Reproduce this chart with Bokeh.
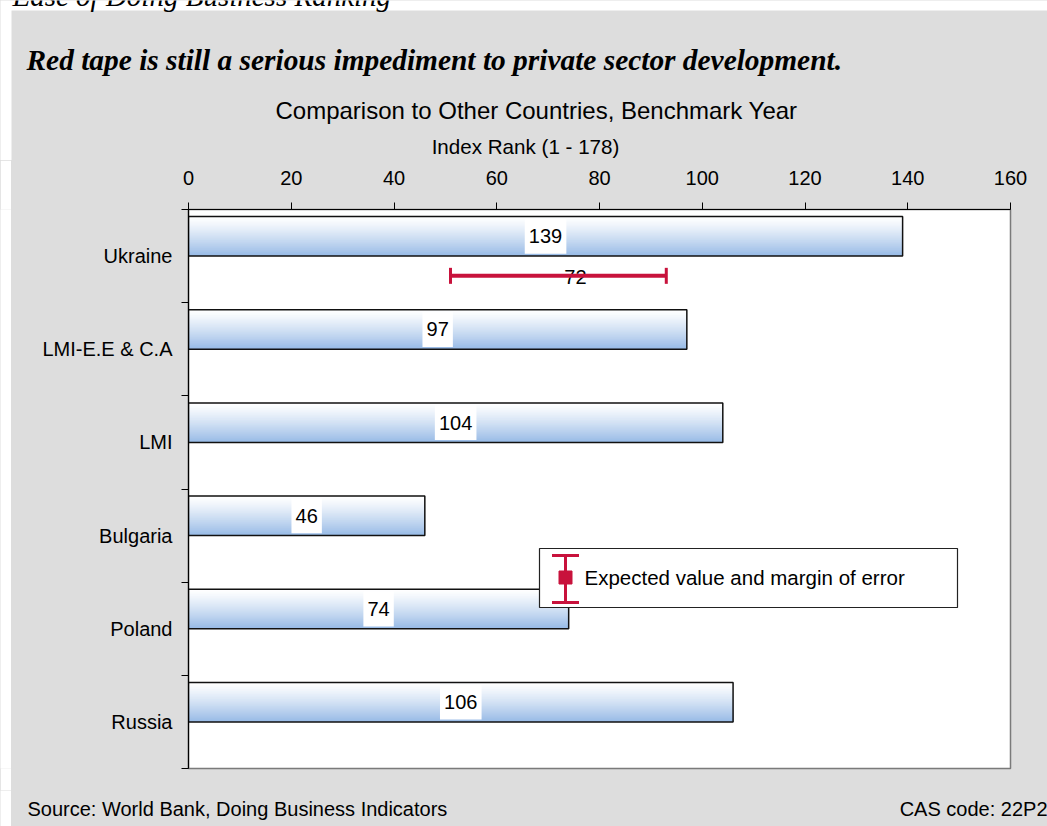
import numpy as np
from bokeh.plotting import figure
from bokeh.layouts import column, row
from bokeh.models import (Range1d, FixedTicker, ColumnDataSource, Whisker, TeeHead,
                          Label, BoxAnnotation)
from bokeh.core.properties import value
from bokeh.embed import file_html
from bokeh.resources import INLINE

# ---------------- data ----------------
categories = ["Ukraine", "LMI-E.E & C.A", "LMI", "Bulgaria", "Poland", "Russia"]
ranks = [139, 97, 104, 46, 74, 106]
expected_category = ["Ukraine"]
expected_value = [72]
expected_low = [51]
expected_high = [93]
x_ticks = [0, 20, 40, 60, 80, 100, 120, 140, 160]

# ---------------- style / layout ----------------
GRAY = "#dddddd"
SANS = "Liberation Sans"
SERIF = "Liberation Serif"
RED = "#c8123c"
BAR_TOP = np.array([255, 255, 255])
BAR_BOTTOM = np.array([152, 187, 230])
BAR_H = 0.424          # bar thickness as fraction of a category band
BAR_POS = 0.288        # first series centre within band (from top)
ERR_POS = 0.712        # second series centre within band
N_STRIPS = 40
W, H = 1047, 826
LEFT_WHITE = 11        # white page margin left of the grey panel
TOP_WHITE = 10         # white page margin above the grey panel
HEAD_H = 160           # header strip height (titles)
FOOT_H = 36            # footer strip height (source line)
FX0, FX1, FY0, FY1 = 188, 1010, 209, 768   # plot frame in page pixels
XMAX = 160
NCAT = len(categories)
MAIN_H = H - HEAD_H - FOOT_H
MAIN_W = W - LEFT_WHITE


def dx(px):   # page pixel -> data x inside the main frame
    return (px - FX0) / (FX1 - FX0) * XMAX


def dy(py):   # page pixel -> data y inside the main frame (axis runs downward)
    return (py - FY0) / (FY1 - FY0) * NCAT


def text_fig(width, height, x0, y0, bg):
    f = figure(width=width, height=height, x_range=Range1d(x0, x0 + width),
               y_range=Range1d(y0 + height, y0), x_axis_location=None, y_axis_location=None,
               toolbar_location=None, output_backend="svg", min_border=0,
               outline_line_color=None, background_fill_color=bg, border_fill_color=bg, title=None)
    f.grid.visible = False
    return f


def ftext(f, text, px, py, size, font=SANS, style="normal", align="left"):
    f.text(x=[px], y=[py], text=[text], text_font=value(font), text_font_size=size,
           text_font_style=style, text_align=align, text_baseline="middle", text_color="black")


# ---------------- header ----------------
head = text_fig(W, HEAD_H, 0, 0, "white")
head.add_layout(BoxAnnotation(left=LEFT_WHITE, right=W + 10, top=TOP_WHITE, bottom=HEAD_H + 10,
                              fill_color=GRAY, fill_alpha=1, line_color=None, level="underlay"))
ftext(head, "Ease of Doing Business Ranking", 12, -5, "29px", SERIF, "italic")
ftext(head, "Red tape is still a serious impediment to private sector development.", 26, 59,
      "29.4px", SERIF, "bold italic")
ftext(head, "Comparison to Other Countries, Benchmark Year", 536, 110, "24px", align="center")
ftext(head, "Index Rank (1 - 178)", 525, 146, "20.6px", align="center")

# ---------------- main chart ----------------
idx = {c: i for i, c in enumerate(categories)}
bar_y = [idx[c] + BAR_POS for c in categories]

p = figure(width=MAIN_W, height=MAIN_H, x_range=Range1d(0, XMAX), y_range=Range1d(NCAT, 0),
           x_axis_location="above", toolbar_location=None, output_backend="svg",
           min_border_left=FX0 - LEFT_WHITE, min_border_right=W - FX1,
           min_border_top=FY0 - HEAD_H, min_border_bottom=H - FOOT_H - FY1,
           border_fill_color=GRAY, background_fill_color="white",
           outline_line_color="#7a7a7a", outline_line_width=1.5, title=None)
p.grid.visible = False

lbls = [str(r) for r in ranks]
src = ColumnDataSource(dict(cat=categories, rank=ranks, y=bar_y,
                            half=[r / 2 for r in ranks], lbl=lbls,
                            boxw=[len(s) * 11.2 + 8 for s in lbls]))
for k in range(N_STRIPS):
    t = k / (N_STRIPS - 1)
    col = BAR_TOP + (BAR_BOTTOM - BAR_TOP) * (t ** 1.2)
    hexcol = "#%02x%02x%02x" % tuple(int(round(v)) for v in col)
    top_off = -BAR_H / 2 + k * BAR_H / N_STRIPS      # strip runs from here to bar bottom
    hh = BAR_H / 2 - top_off
    ys = [y + top_off + hh / 2 for y in bar_y]
    p.hbar(y=ys, right=ranks, left=0, height=hh, fill_color=hexcol, line_color=None)
p.hbar(y="y", right="rank", left=0, height=BAR_H, source=src,
       fill_color=None, line_color="#111111", line_width=1.5)

# white label boxes + value labels
p.rect(x="half", y="y", width="boxw", width_units="screen", height=BAR_H * 0.88,
       source=src, fill_color="white", line_color=None)
p.text(x="half", y="y", text="lbl", source=src, text_align="center", text_baseline="middle",
       text_font=value(SANS), text_font_size="20px", text_color="black")

# expected value + margin of error
esrc = ColumnDataSource(dict(y=[idx[c] + ERR_POS for c in expected_category],
                             v=expected_value, lo=expected_low, hi=expected_high,
                             lbl=[str(v) for v in expected_value]))
p.add_layout(Whisker(source=esrc, base="y", lower="lo", upper="hi", dimension="width",
                     line_color=RED, line_width=4, level="annotation",
                     lower_head=TeeHead(size=16, line_color=RED, line_width=3),
                     upper_head=TeeHead(size=16, line_color=RED, line_width=3)))
p.text(x="v", y="y", text="lbl", source=esrc, text_align="center", text_baseline="middle",
       x_offset=17, y_offset=1, text_font=value(SANS), text_font_size="20px", text_color="black")

# legend (key box)
LX0, LX1, LY0, LY1 = dx(539), dx(957), dy(548), dy(607)
p.quad(left=[LX0], right=[LX1], top=[LY0], bottom=[LY1], fill_color="white",
       line_color="#222222", line_width=1.2)
icon_x = dx(565)
icon = ColumnDataSource(dict(x=[icon_x], lo=[dy(555)], hi=[dy(602)]))
p.add_layout(Whisker(source=icon, base="x", lower="lo", upper="hi", dimension="height",
                     line_color=RED, line_width=3, level="annotation",
                     lower_head=TeeHead(size=27, line_color=RED, line_width=3),
                     upper_head=TeeHead(size=27, line_color=RED, line_width=3)))
p.scatter(x=[icon_x], y=[dy(577)], marker="square", size=13, fill_color=RED, line_color=RED)
p.add_layout(Label(x=dx(584), y=dy(577), text="Expected value and margin of error",
                   text_baseline="middle", text_align="left", text_font=SANS,
                   text_font_size="20.5px", text_color="black"))

# axes
xa = p.xaxis[0]
xa.ticker = FixedTicker(ticks=x_ticks)
xa.major_label_text_font = SANS
xa.major_label_text_font_size = "20px"
xa.major_label_text_color = "black"
xa.axis_line_color = "black"
xa.axis_line_width = 1.2
xa.major_tick_out = 7
xa.major_tick_in = 0
xa.minor_tick_out = 0
xa.minor_tick_in = 0
xa.major_tick_line_color = "black"
xa.major_label_standoff = 18

ya = p.yaxis[0]
ya.ticker = FixedTicker(ticks=[i + 0.5 for i in range(NCAT)],
                        minor_ticks=list(range(NCAT + 1)))
ya.major_label_overrides = {i + 0.5: c for i, c in enumerate(categories)}
ya.major_label_text_font = SANS
ya.major_label_text_font_size = "20px"
ya.major_label_text_color = "black"
ya.axis_line_color = "black"
ya.axis_line_width = 1.2
ya.major_tick_out = 0
ya.major_tick_in = 0
ya.minor_tick_out = 7
ya.minor_tick_in = 0
ya.minor_tick_line_color = "black"
ya.major_label_standoff = 9

# ---------------- footer ----------------
foot = text_fig(MAIN_W, FOOT_H, LEFT_WHITE, H - FOOT_H, GRAY)
ftext(foot, "Source: World Bank, Doing Business Indicators", 27, 808, "20px")
ftext(foot, "CAS code: 22P2", W, 808, "20px", align="right")

# white page margin to the left of the grey panel
margin_main = text_fig(LEFT_WHITE, MAIN_H, 0, HEAD_H, "white")
margin_foot = text_fig(LEFT_WHITE, FOOT_H, 0, H - FOOT_H, "white")

gray = {"background-color": GRAY}
layout = column(head,
                row(margin_main, p, styles=gray),
                row(margin_foot, foot, styles=gray),
                styles=gray)

open("out.html", "w").write(file_html(layout, INLINE))
